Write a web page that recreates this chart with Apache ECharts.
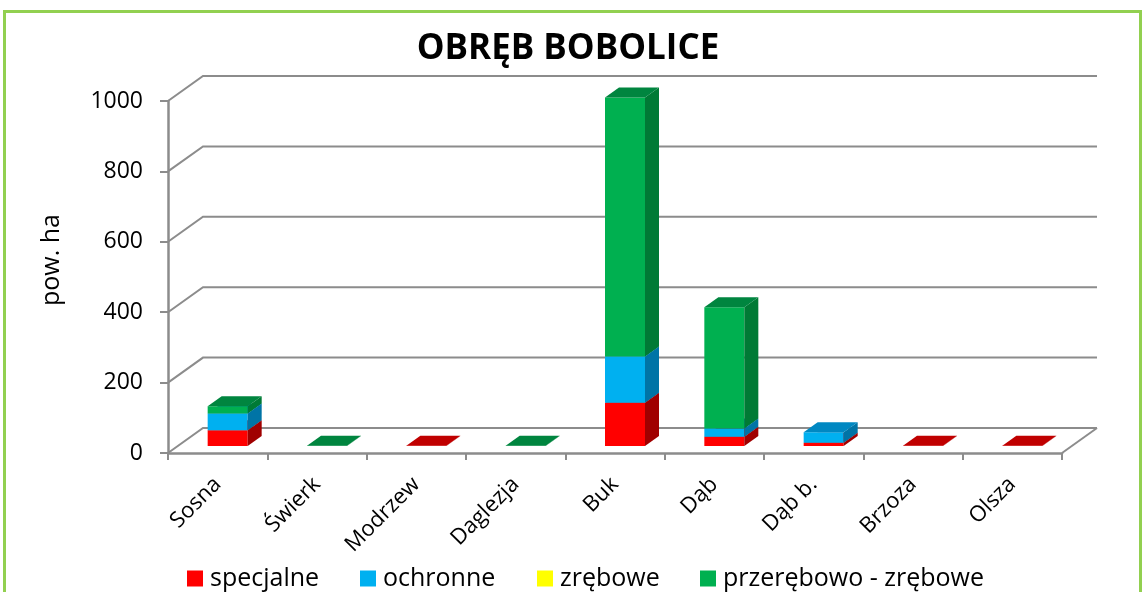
<!DOCTYPE html>
<html>
<head>
<meta charset="utf-8">
<script src="https://cdn.jsdelivr.net/npm/echarts@6/dist/echarts.min.js"></script>
<style>
  html, body { margin: 0; padding: 0; background: #ffffff; }
  #chart { width: 1145px; height: 592px; }
</style>
</head>
<body>
<div id="chart"></div>
<script>
// Gatunki drzew (oś X)
const categories = ['Sosna', 'Świerk', 'Modrzew', 'Daglezja', 'Buk', 'Dąb', 'Dąb b.', 'Brzoza', 'Olsza'];

// Powierzchnia w ha wg rodzaju rębni
const specjalne = [45, 0, 1, 0, 123, 26, 9, 1, 1];
const ochronne = [47, 0, 0, 0, 131, 24, 30, 0, 0];
const zrebowe = [0, 0, 0, 0, 0, 0, 0, 0, 0];
const przerebowoZrebowe = [21, 1, 0, 1, 736, 344, 0, 0, 0];

// Linie siatki osi Y
const yTicks = [0, 200, 400, 600, 800, 1000];

const FONT = '"Open Sans", "Noto Sans", sans-serif';

// Geometria pseudo-3D (piksele)
const WALL_DX = 35, WALL_DY = -25;   // przesunięcie tylnej ściany
const BAR_OX = 10, BAR_OY = -7;      // położenie przedniej ściany słupka
const BAR_DX = 14, BAR_DY = -10;     // głębokość słupka
const BAR_W = 40;

const seriesDefs = [
  { name: 'specjalne', values: specjalne, front: '#ff0000', side: '#a00000', top: '#c00000' },
  { name: 'ochronne', values: ochronne, front: '#00b0f0', side: '#0074a6', top: '#0088c2' },
  { name: 'zrębowe', values: zrebowe, front: '#ffff00', side: '#b0b000', top: '#d4d400' },
  { name: 'przerębowo - zrębowe', values: przerebowoZrebowe, front: '#00b050', side: '#007a35', top: '#00853f' }
];

// Skumulowane segmenty słupków
const base = categories.map(() => 0);
const barSeries = seriesDefs.map(def => {
  const data = [];
  def.values.forEach((v, i) => {
    if (v > 0) data.push([i, base[i], base[i] + v]);
    base[i] += v;
  });
  return {
    type: 'custom',
    name: def.name,
    z: 3,
    itemStyle: { color: def.front },
    encode: { x: 0, y: [1, 2] },
    data: data,
    renderItem: function (params, api) {
      const idx = api.value(0);
      const p0 = api.coord([idx, api.value(1)]);
      const p1 = api.coord([idx, api.value(2)]);
      const x0 = p0[0] + BAR_OX - BAR_W / 2;
      const x1 = x0 + BAR_W;
      const yb = p0[1] + BAR_OY;
      const yt = p1[1] + BAR_OY;
      return {
        type: 'group',
        children: [
          { type: 'rect', shape: { x: x0, y: yt, width: BAR_W, height: yb - yt },
            style: { fill: def.front } },
          { type: 'polygon', shape: { points: [[x1, yb], [x1 + BAR_DX, yb + BAR_DY], [x1 + BAR_DX, yt + BAR_DY], [x1, yt]] },
            style: { fill: def.side } },
          { type: 'polygon', shape: { points: [[x0, yt], [x1, yt], [x1 + BAR_DX, yt + BAR_DY], [x0 + BAR_DX, yt + BAR_DY]] },
            style: { fill: def.top } }
        ]
      };
    }
  };
});

// Tylna ściana i podłoga: linie siatki
const wallSeries = {
  type: 'custom',
  name: 'siatka',
  z: 1,
  silent: true,
  data: yTicks.map(v => [0, v]),
  encode: { x: 0, y: 1 },
  renderItem: function (params, api) {
    const v = api.value(1);
    const band = api.size([1, 0])[0];
    const pL = api.coord([0, v]);
    const pR = api.coord([categories.length - 1, v]);
    const xL = pL[0] - band / 2;
    const xR = pR[0] + band / 2;
    const y = pL[1];
    const style = { stroke: '#8c8c8c', lineWidth: 2, fill: null };
    const children = [
      { type: 'polyline', shape: { points: [[xL, y], [xL + WALL_DX, y + WALL_DY], [xR + WALL_DX, y + WALL_DY]] }, style: style }
    ];
    if (v === 0) {
      children.push({ type: 'line', shape: { x1: xR, y1: y, x2: xR + WALL_DX, y2: y + WALL_DY }, style: style });
    }
    return { type: 'group', children: children };
  }
};

const legendLeft = [182, 355, 532, 695];
const legends = seriesDefs.map((def, i) => ({
  data: [def.name],
  left: legendLeft[i],
  top: 561,
  icon: 'rect',
  itemWidth: 16,
  itemHeight: 16,
  itemGap: 0,
  selectedMode: false,
  textStyle: { fontFamily: FONT, fontSize: 25, color: '#000000', padding: [0, 0, 0, 2] }
}));

const chart = echarts.init(document.getElementById('chart'), null, { renderer: 'canvas' });
chart.setOption({
  animation: false,
  backgroundColor: '#ffffff',
  title: {
    text: 'OBRĘB BOBOLICE',
    left: 563,
    textAlign: 'center',
    top: 27,
    textStyle: { fontFamily: FONT, fontSize: 35, fontWeight: 'bold', color: '#000000' }
  },
  legend: legends,
  grid: { left: 168, right: 83, top: 101, bottom: 139 },
  xAxis: {
    type: 'category',
    data: categories,
    boundaryGap: true,
    axisLine: { show: true, lineStyle: { color: '#8c8c8c', width: 2.5 } },
    axisTick: { show: true, length: 7, interval: 0, lineStyle: { color: '#8c8c8c', width: 2 } },
    axisLabel: { interval: 0, rotate: 45, margin: 28, fontFamily: FONT, fontSize: 22, color: '#000000' },
    splitLine: { show: false }
  },
  yAxis: {
    type: 'value',
    min: 0,
    max: 1000,
    interval: 200,
    name: 'pow. ha',
    nameLocation: 'middle',
    nameRotate: 90,
    nameGap: 104,
    nameTextStyle: { fontFamily: FONT, fontSize: 25, color: '#000000', padding: [0, 0, 0, 34] },
    axisLine: { show: true, lineStyle: { color: '#8c8c8c', width: 2.5 } },
    axisTick: { show: true, length: 8, lineStyle: { color: '#8c8c8c', width: 2 } },
    axisLabel: { margin: 25, fontFamily: FONT, fontSize: 23, color: '#000000',
      formatter: function (v) { return String(v); } },
    splitLine: { show: false }
  },
  graphic: [
    { type: 'rect', z: 100, silent: true,
      shape: { x: 4.5, y: 11.5, width: 1136, height: 620 },
      style: { fill: null, stroke: '#92d050', lineWidth: 3 } }
  ],
  series: [wallSeries].concat(barSeries)
});
</script>
</body>
</html>
